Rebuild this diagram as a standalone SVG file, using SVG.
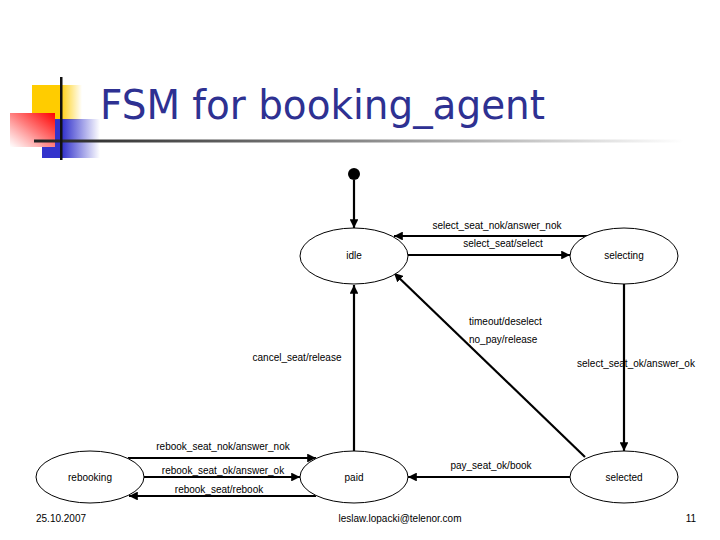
<svg xmlns="http://www.w3.org/2000/svg" width="720" height="540" viewBox="0 0 720 540">
<style>
.st{fill:#fff;stroke:#000;stroke-width:1}
.lb{font-family:"Liberation Sans",Arial,sans-serif;font-size:10px;fill:#000}
.cn{stroke:#000;stroke-width:2.2;fill:none}
.ft{font-family:"Liberation Sans",Arial,sans-serif;font-size:10px;fill:#000}
</style>
<defs>
<marker id="ah" viewBox="0 0 10 10" refX="10" refY="5" markerWidth="4" markerHeight="4" orient="auto" markerUnits="strokeWidth">
<path d="M0,0 L10,5 L0,10 z" fill="#000"/>
</marker>
<linearGradient id="gy" x1="0" y1="0" x2="1" y2="0">
<stop offset="0" stop-color="#ffcc00"/><stop offset="0.55" stop-color="#ffcc00"/><stop offset="1" stop-color="#ffcc00" stop-opacity="0"/>
</linearGradient>
<linearGradient id="gb" x1="0" y1="0" x2="1" y2="0">
<stop offset="0" stop-color="#3333cc"/><stop offset="0.35" stop-color="#3333cc"/><stop offset="1" stop-color="#3333cc" stop-opacity="0"/>
</linearGradient>
<linearGradient id="gr" x1="1" y1="0" x2="0" y2="1">
<stop offset="0" stop-color="#ff0000"/><stop offset="0.5" stop-color="#ff8080"/><stop offset="1" stop-color="#ffffff" stop-opacity="0.9"/>
</linearGradient>
<linearGradient id="gl" x1="0" y1="0" x2="1" y2="0">
<stop offset="0" stop-color="#222"/><stop offset="0.5" stop-color="#888"/><stop offset="1" stop-color="#fff"/>
</linearGradient>
</defs>
<g id="decor">
<rect x="32" y="85" width="50" height="35" fill="url(#gy)"/>
<rect x="42" y="119" width="58" height="39" fill="url(#gb)"/>
<rect x="10" y="113" width="45" height="34" fill="url(#gr)"/>
<rect x="34" y="139.5" width="650" height="3" fill="url(#gl)"/>
<rect x="60" y="77" width="2.5" height="83" fill="#111"/>
</g>
<text x="100" y="119" font-family="'DejaVu Sans',Verdana,sans-serif" font-size="41" fill="#2e3192" textLength="445" lengthAdjust="spacingAndGlyphs">FSM for booking_agent</text>
<g id="connectors">
<line class="cn" x1="354" y1="180" x2="354" y2="228" marker-end="url(#ah)"/>
<line class="cn" x1="587" y1="236" x2="394" y2="236" marker-end="url(#ah)"/>
<line class="cn" x1="408" y1="255" x2="570" y2="255" marker-end="url(#ah)"/>
<line class="cn" x1="354" y1="451" x2="354" y2="285" marker-end="url(#ah)"/>
<line class="cn" x1="624" y1="284" x2="624" y2="451" marker-end="url(#ah)"/>
<line class="cn" x1="585" y1="457" x2="394" y2="273" marker-end="url(#ah)"/>
<line class="cn" x1="570" y1="477" x2="408" y2="477" marker-end="url(#ah)"/>
<line class="cn" x1="128" y1="458" x2="316" y2="458" marker-end="url(#ah)"/>
<line class="cn" x1="144" y1="477" x2="300" y2="477" marker-end="url(#ah)"/>
<line class="cn" x1="316" y1="496" x2="129" y2="496" marker-end="url(#ah)"/>
<text class="lb" x="497" y="229" text-anchor="middle">select_seat_nok/answer_nok</text>
<text class="lb" x="503" y="247" text-anchor="middle">select_seat/select</text>
<text class="lb" x="469" y="325">timeout/deselect</text>
<text class="lb" x="469" y="343">no_pay/release</text>
<text class="lb" x="297" y="361" text-anchor="middle">cancel_seat/release</text>
<text class="lb" x="636" y="367" text-anchor="middle">select_seat_ok/answer_ok</text>
<text class="lb" x="223" y="450" text-anchor="middle">rebook_seat_nok/answer_nok</text>
<text class="lb" x="223" y="474" text-anchor="middle">rebook_seat_ok/answer_ok</text>
<text class="lb" x="219" y="493" text-anchor="middle">rebook_seat/rebook</text>
<text class="lb" x="491" y="469" text-anchor="middle">pay_seat_ok/book</text>
</g>
<g id="initial"><circle cx="354" cy="174" r="6" fill="#000"/></g>
<g id="idle"><ellipse class="st" cx="354" cy="256" rx="54" ry="28"/><text class="lb" x="354" y="259" text-anchor="middle">idle</text></g>
<g id="selecting"><ellipse class="st" cx="624" cy="256" rx="54" ry="28"/><text class="lb" x="624" y="259" text-anchor="middle">selecting</text></g>
<g id="rebooking"><ellipse class="st" cx="90" cy="477" rx="54" ry="26"/><text class="lb" x="90" y="481" text-anchor="middle">rebooking</text></g>
<g id="paid"><ellipse class="st" cx="354" cy="477" rx="54" ry="26"/><text class="lb" x="354" y="481" text-anchor="middle">paid</text></g>
<g id="selected"><ellipse class="st" cx="624" cy="477" rx="54" ry="26"/><text class="lb" x="624" y="481" text-anchor="middle">selected</text></g>
<g id="footer">
<text class="ft" x="36" y="522">25.10.2007</text>
<text class="ft" x="400" y="522" text-anchor="middle">leslaw.lopacki@telenor.com</text>
<text class="ft" x="691" y="522" text-anchor="middle">11</text>
</g>
</svg>
